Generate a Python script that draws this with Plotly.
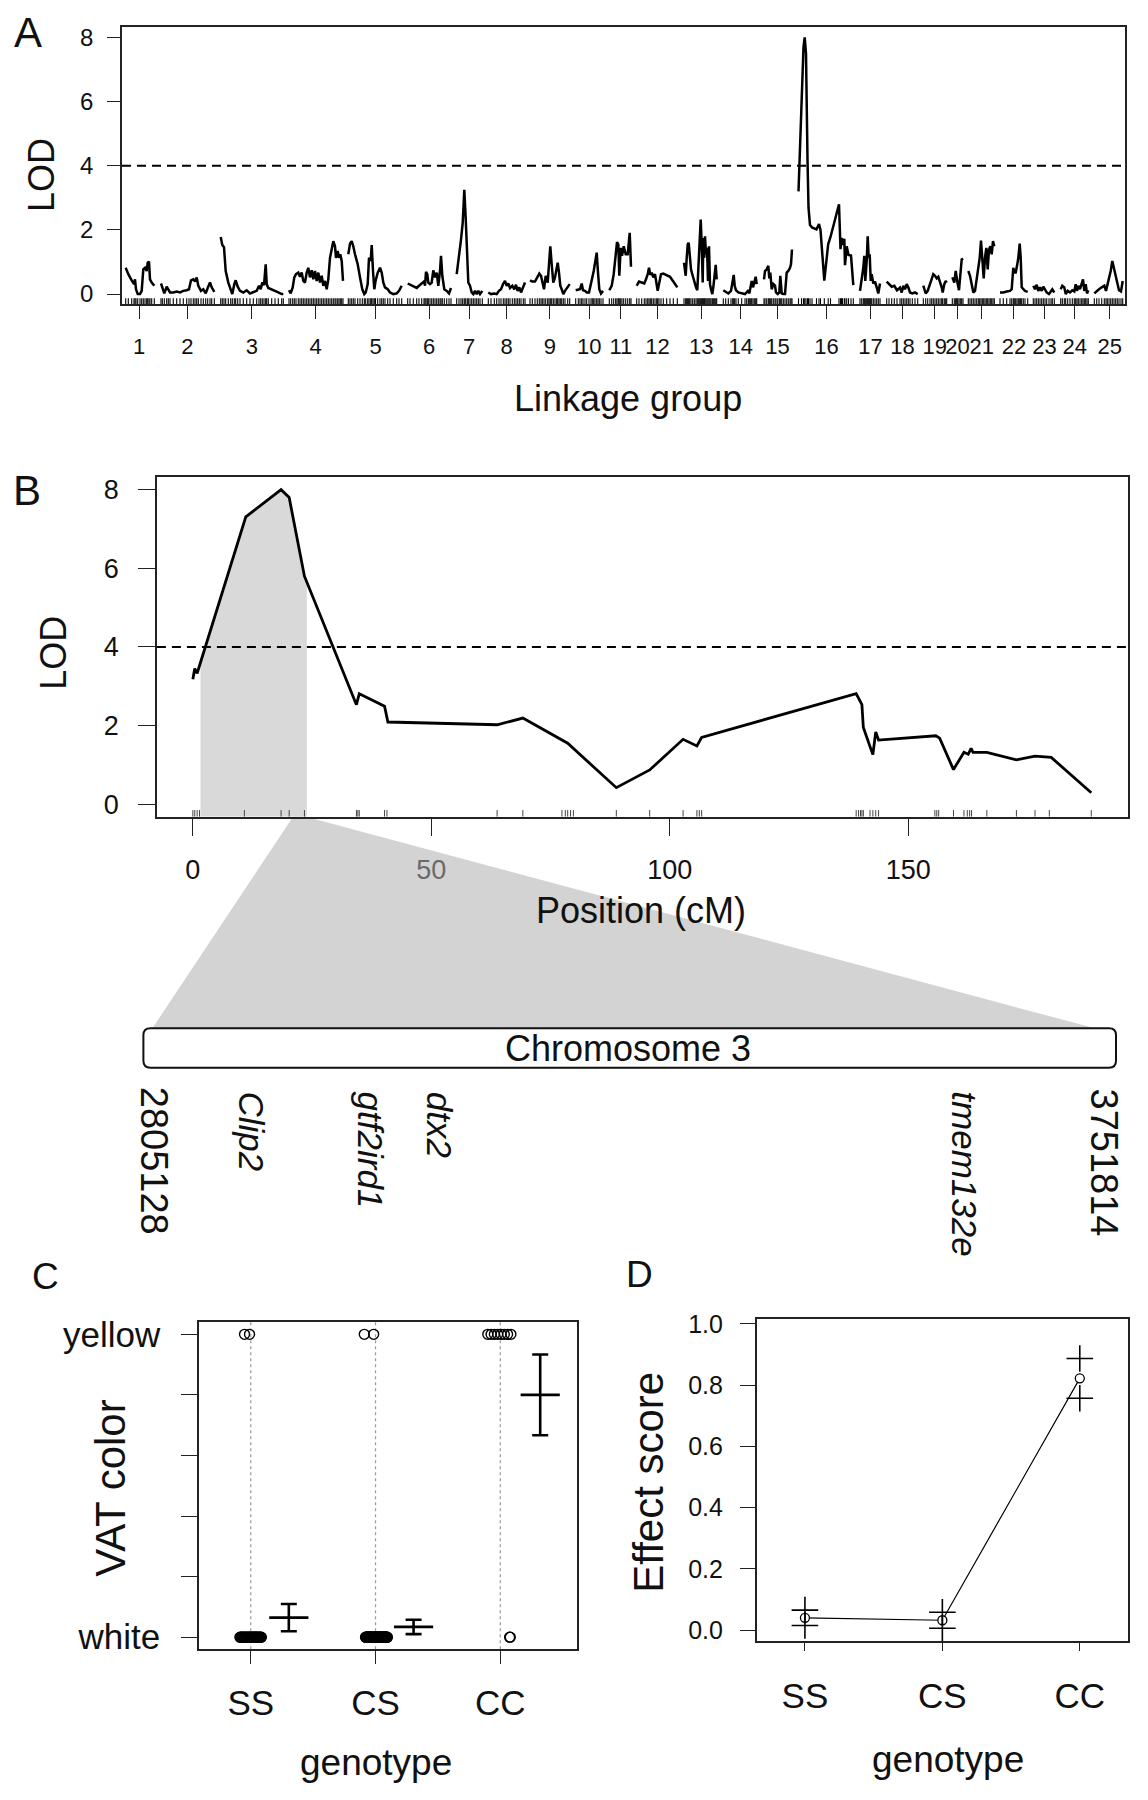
import numpy as np
import plotly.graph_objects as go

W, H = 1148, 1800
def px(x): return x / W
def py(y): return 1 - y / H

FONT = "Liberation Sans, Arial, Helvetica, sans-serif"

# ---------------- Panel A : genome scan (cumulative position, LOD) ----------------
lg_labels = [str(i) for i in range(1, 26)]
lg_centers = [17, 65.4, 129.8, 193.5, 253.5, 307, 347, 384.6, 427.8, 467.3, 498.8, 535.4,
              579.3, 618.8, 655.5, 704.5, 748.4, 780.6, 812.8, 835.5, 859.7, 891.9, 922.6, 952.7, 987.8]

chr1_pos = [3.7, 6.3, 9.7, 12.0, 13.0, 14.0, 15.7, 18.0, 19.7, 21.3, 23.0, 24.7, 25.7, 27.0, 28.0, 29.7, 32.3]
chr1_lod = [0.82, 0.62, 0.43, 0.31, 0.46, 0.15, 0.0, 0.0, 0.10, 0.77, 0.82, 0.72, 0.98, 1.01, 0.46, 0.36, 0.26]
chr2_pos = [39.0, 40.3, 42.3, 44.7, 46.3, 48.0, 51.3, 54.7, 58.0, 61.3, 64.7, 67.0, 69.0, 71.3, 73.0, 74.7, 76.3, 79.0, 81.3, 83.7, 85.7, 88.0, 89.7, 92.3]
chr2_lod = [0.33, 0.21, 0.02, 0.23, 0.15, 0.05, 0.05, 0.08, 0.05, 0.10, 0.12, 0.15, 0.43, 0.46, 0.39, 0.52, 0.26, 0.10, 0.15, 0.02, 0.19, 0.36, 0.21, 0.07]
chr3_pos = [98.7, 100.3, 102.0, 103.7, 106.3, 108.7, 110.3, 112.3, 113.7, 115.7, 118.0, 121.3, 124.7, 128.0, 131.3, 134.7, 137.0, 138.7, 140.3, 142.0, 143.7, 144.7, 146.3, 149.7, 153.0, 156.3, 159.7, 161.3]
chr3_lod = [1.78, 1.53, 1.46, 0.72, 0.36, 0.10, 0.0, 0.31, 0.43, 0.23, 0.10, 0.05, 0.12, 0.02, 0.06, 0.10, 0.26, 0.15, 0.36, 0.28, 0.93, 0.31, 0.19, 0.15, 0.10, 0.05, 0.0, 0.0]
chr4_pos = [167.0, 168.7, 170.7, 172.3, 174.0, 176.3, 178.0, 179.7, 181.3, 183.0, 184.7, 186.3, 188.0, 189.7, 191.3, 193.0, 194.7, 196.3, 198.0, 199.7, 201.3, 203.0, 204.7, 206.3, 208.0, 209.7, 211.3, 213.0, 214.0, 215.7, 217.0, 218.3, 219.7, 221.0]
chr4_lod = [0.12, 0.02, 0.21, 0.52, 0.62, 0.67, 0.54, 0.67, 0.41, 0.36, 0.67, 0.82, 0.52, 0.74, 0.46, 0.72, 0.41, 0.67, 0.36, 0.57, 0.26, 0.41, 0.15, 0.46, 1.13, 1.39, 1.65, 1.49, 1.13, 1.34, 1.13, 1.24, 1.03, 0.41]
chr5_pos = [226.3, 228.0, 229.7, 231.3, 233.0, 235.7, 238.0, 240.3, 242.3, 243.7, 245.7, 247.0, 248.7, 249.7, 251.0, 252.3, 253.5, 255.7, 258.0, 259.7, 261.3, 263.0, 265.7, 268.0, 271.3, 274.7, 277.0, 279.7]
chr5_lod = [1.24, 1.57, 1.65, 1.49, 1.24, 0.93, 0.52, 0.15, 0.0, 0.05, 0.31, 1.13, 1.03, 1.53, 0.72, 0.15, 0.40, 0.67, 0.82, 0.67, 0.36, 0.21, 0.15, 0.05, 0.0, 0.02, 0.10, 0.26]
chr6_pos = [285.7, 288.0, 291.3, 294.7, 297.0, 299.7, 302.0, 303.0, 304.0, 305.3, 306.3, 308.0, 309.7, 311.3, 313.0, 314.7, 316.3, 318.0, 319.0, 320.3, 322.3, 324.7, 327.0, 329.0]
chr6_lod = [0.33, 0.29, 0.23, 0.19, 0.26, 0.33, 0.39, 0.26, 0.69, 0.62, 0.36, 0.31, 0.36, 0.74, 0.52, 0.67, 0.26, 0.72, 1.19, 0.57, 0.15, 0.10, 0.02, 0.19]
chr7_pos = [334.7, 337.0, 339.0, 340.7, 342.3, 343.7, 345.3, 346.3, 348.0, 349.7, 351.3, 353.0, 354.7, 356.3, 358.0, 360.3]
chr7_lod = [0.62, 1.13, 1.70, 2.22, 3.25, 2.37, 1.24, 0.36, 0.26, 0.05, 0.0, 0.10, 0.0, 0.10, 0.0, 0.10]
chr8_pos = [366.3, 369.0, 372.3, 374.7, 377.0, 379.0, 381.3, 383.0, 384.7, 386.3, 388.0, 390.3, 392.3, 394.0, 395.7, 397.3, 399.0, 401.3, 403.0]
chr8_lod = [0.05, 0.0, 0.02, 0.0, 0.10, 0.15, 0.33, 0.41, 0.26, 0.33, 0.19, 0.26, 0.15, 0.29, 0.10, 0.21, 0.05, 0.26, 0.36]
chr9_pos = [408.0, 410.3, 413.0, 415.3, 417.3, 419.0, 420.3, 422.0, 423.7, 425.7, 427.0, 428.3, 429.7, 431.3, 433.0, 434.7, 435.7, 437.0, 438.3, 439.7, 441.3, 443.0, 445.7, 447.7]
chr9_lod = [0.43, 0.39, 0.39, 0.52, 0.64, 0.57, 0.33, 0.15, 0.57, 0.36, 0.93, 1.49, 0.93, 0.36, 0.52, 0.77, 0.98, 0.67, 0.26, 0.15, 0.0, 0.10, 0.23, 0.31]
chr10_pos = [453.7, 456.3, 458.0, 459.7, 461.0, 463.0, 464.7, 467.0, 469.0, 470.3, 471.7, 473.0, 474.7, 476.0, 477.3, 479.0, 481.0]
chr10_lod = [0.12, 0.15, 0.15, 0.33, 0.12, 0.10, 0.05, 0.05, 0.41, 0.52, 0.72, 0.93, 1.29, 0.67, 0.15, 0.02, 0.10]
chr11_pos = [487.3, 489.7, 491.7, 493.7, 495.0, 496.3, 497.3, 498.7, 500.0, 501.7, 503.7, 505.7, 507.7, 509.0]
chr11_lod = [0.12, 0.26, 0.62, 1.24, 1.62, 1.55, 0.57, 1.44, 1.19, 1.49, 1.24, 1.24, 1.91, 0.85]
chr12_pos = [514.7, 517.0, 519.7, 522.3, 524.0, 525.7, 527.0, 528.3, 529.7, 531.3, 533.0, 534.7, 535.7, 537.0, 539.0, 541.3, 544.7, 548.0, 551.3, 555.3]
chr12_lod = [0.26, 0.39, 0.36, 0.33, 0.46, 0.62, 0.82, 0.60, 0.67, 0.52, 0.62, 0.36, 0.10, 0.31, 0.62, 0.64, 0.60, 0.54, 0.39, 0.21]
chr13_pos = [562.0, 563.7, 564.7, 565.7, 566.7, 567.7, 569.0, 570.7, 572.3, 574.0, 575.3, 576.3, 577.7, 578.7, 579.7, 580.7, 581.3, 582.3, 583.0, 584.0, 585.0, 586.0, 587.0, 588.0, 589.0, 590.3, 591.3, 592.3, 593.7, 594.7]
chr13_lod = [0.98, 0.57, 1.13, 1.55, 1.60, 1.13, 0.77, 0.57, 0.36, 0.21, 0.12, 0.93, 1.65, 2.32, 1.55, 0.36, 1.75, 1.13, 1.80, 1.24, 1.44, 0.41, 1.49, 0.31, 0.15, 0.0, 0.21, 0.52, 0.91, 0.46]
chr14_pos = [601.3, 603.7, 606.3, 609.0, 610.7, 611.7, 612.7, 614.0, 616.3, 619.7, 623.0, 624.7, 626.3, 627.3, 628.7, 629.7, 631.0, 632.3, 633.7, 634.7]
chr14_lod = [0.12, 0.07, 0.02, 0.10, 0.36, 0.60, 0.26, 0.12, 0.05, 0.02, 0.0, 0.05, 0.12, 0.02, 0.26, 0.41, 0.21, 0.39, 0.54, 0.31]
chr15_pos = [642.0, 643.0, 644.7, 646.3, 647.3, 648.3, 649.7, 651.3, 653.0, 654.0, 655.7, 657.3, 658.3, 659.7, 661.3, 663.0, 664.7, 666.3, 668.0, 669.0, 670.0]
chr15_lod = [0.46, 0.72, 0.77, 0.88, 0.49, 0.67, 0.15, 0.31, 0.26, 0.05, 0.0, 0.05, 0.57, 0.02, 0.0, 0.0, 0.67, 0.72, 0.82, 0.93, 1.39]
chr16_pos = [676.5, 679.5, 681.5, 682.7, 684.0, 685.5, 686.5, 688.0, 690.0, 694.5, 697.0, 698.5, 702.3, 706.2, 708.5, 717.0, 718.5, 719.5, 720.5, 722.3, 723.0, 724.7, 726.5, 729.0, 731.3]
chr16_lod = [3.2, 5.8, 7.7, 8.0, 7.5, 4.2, 2.7, 2.15, 2.08, 2.02, 2.18, 2.0, 0.42, 1.56, 1.78, 2.8, 1.4, 1.75, 1.53, 1.72, 0.9, 1.49, 1.22, 1.2, 0.28]
chr17_pos = [738.0, 739.7, 741.3, 742.3, 743.3, 744.7, 745.7, 746.7, 747.7, 748.7, 749.7, 751.3, 753.0, 754.7, 756.3, 758.0]
chr17_lod = [0.10, 0.41, 0.82, 1.19, 0.41, 1.03, 1.80, 1.13, 1.24, 0.41, 0.62, 0.33, 0.39, 0.21, 0.02, 0.33]
chr18_pos = [764.7, 767.0, 769.7, 772.3, 775.0, 778.0, 779.7, 781.3, 783.0, 784.7, 786.3, 788.0, 790.3, 793.0, 795.7]
chr18_lod = [0.39, 0.31, 0.23, 0.26, 0.12, 0.20, 0.05, 0.26, 0.15, 0.31, 0.21, 0.05, 0.02, 0.05, 0.0]
chr19_pos = [801.3, 803.7, 805.7, 808.0, 809.7, 811.3, 813.0, 814.7, 816.3, 818.0, 819.7, 820.7, 822.3, 823.7, 824.7]
chr19_lod = [0.26, 0.02, 0.10, 0.31, 0.41, 0.62, 0.57, 0.49, 0.54, 0.39, 0.21, 0.05, 0.31, 0.41, 0.36]
chr20_pos = [830.3, 832.3, 833.7, 834.7, 835.7, 837.0, 838.3, 839.7, 841.0]
chr20_lod = [0.52, 0.36, 0.72, 0.46, 0.31, 0.12, 0.72, 1.08, 1.11]
chr21_pos = [846.3, 848.0, 849.7, 851.3, 853.0, 854.7, 856.3, 857.7, 859.0, 860.3, 861.7, 863.0, 864.3, 865.7, 867.0, 868.3, 869.7, 871.0, 872.3]
chr21_lod = [0.72, 0.57, 0.31, 0.05, 0.10, 0.46, 0.72, 1.13, 1.67, 0.93, 0.49, 1.13, 1.44, 0.77, 1.39, 1.49, 1.24, 1.65, 1.49]
chr22_pos = [878.0, 881.3, 884.7, 888.0, 889.7, 891.3, 892.3, 893.7, 895.0, 896.3, 897.7, 898.7, 899.7, 901.3, 903.0, 905.7]
chr22_lod = [0.05, 0.05, 0.08, 0.10, 0.15, 0.82, 0.67, 0.67, 0.88, 1.13, 1.57, 1.13, 0.21, 0.15, 0.10, 0.07]
chr23_pos = [911.3, 913.0, 914.7, 916.3, 918.0, 919.7, 921.3, 923.0, 924.7, 927.0, 929.0, 930.3, 932.3]
chr23_lod = [0.26, 0.15, 0.29, 0.10, 0.21, 0.10, 0.23, 0.15, 0.05, 0.0, 0.10, 0.15, 0.05]
chr24_pos = [938.7, 940.3, 942.3, 943.7, 945.7, 948.0, 950.3, 952.3, 953.7, 955.0, 956.3, 958.0, 959.7, 961.0, 962.3, 963.7, 965.0, 966.3]
chr24_lod = [0.15, 0.26, 0.21, 0.0, 0.10, 0.05, 0.12, 0.08, 0.31, 0.10, 0.26, 0.15, 0.33, 0.46, 0.10, 0.31, 0.02, 0.12]
chr25_pos = [972.3, 974.7, 977.0, 979.7, 982.3, 984.0, 985.3, 987.0, 988.7, 990.3, 992.0, 993.7, 995.3, 997.0, 999.0, 1000.7]
chr25_lod = [0.02, 0.10, 0.15, 0.21, 0.26, 0.10, 0.26, 0.46, 0.72, 1.03, 0.82, 0.62, 0.36, 0.12, 0.08, 0.41]

lod_threshold = 4

# ---------------- Panel B : single-chromosome scan ----------------
b_pos = [0, 0.4, 0.9, 11.1, 18.5, 20.2, 23.4, 34.3, 34.9, 40.2, 40.9, 63.8, 69.2, 78.6, 88.8, 95.8,
         102.8, 105.7, 106.7, 139.1, 140.3, 140.6, 142.6, 143.2, 143.8, 155.8, 156.6, 159.5, 161.7,
         162.6, 163.2, 163.6, 166.5, 172.7, 176.6, 180.0, 188.4]
b_lod = [3.18, 3.45, 3.33, 7.31, 8.0, 7.8, 5.8, 2.53, 2.81, 2.49, 2.09, 2.02, 2.19, 1.55, 0.42, 0.87,
         1.65, 1.48, 1.70, 2.81, 2.53, 1.95, 1.26, 1.84, 1.63, 1.74, 1.68, 0.88, 1.32,
         1.27, 1.42, 1.32, 1.32, 1.13, 1.22, 1.19, 0.29]
b_markers = [0, 0.4, 0.9, 1.4, 10.8, 18.5, 20.2, 23.4, 34.3, 34.6, 34.9, 40.2, 40.7, 63.8, 69.2,
             77.4, 78.1, 78.6, 79.2, 79.8, 88.8, 95.8, 102.8, 105.7, 106.2, 106.7, 139.1, 139.6,
             140.0, 140.3, 140.6, 142.0, 142.6, 143.2, 143.8, 155.6, 156.0, 156.4, 159.5, 161.7,
             162.4, 162.9, 163.3, 166.5, 172.7, 176.6, 179.6, 188.4]
b_interval = [1.6, 23.9]

# ---------------- Chromosome 3 region ----------------
region_start = 2805128
region_end = 3751814
gene_names = ["Clip2", "gtf2ird1", "dtx2", "tmem132e"]
gene_pos = [2903000, 3021000, 3090000, 3613000]

# ---------------- Panel C : VAT color by genotype (counts) ----------------
genotypes = ["SS", "CS", "CC"]
n_yellow = [2, 2, 8]
n_white = [29, 57, 2]

# ---------------- Panel D : effect plot ----------------
eff_mean = [0.040, 0.032, 0.822]
eff_se = [0.025, 0.026, 0.065]

fig = go.Figure()

# ===== Panel A =====
chroms = [(chr1_pos, chr1_lod), (chr2_pos, chr2_lod), (chr3_pos, chr3_lod), (chr4_pos, chr4_lod),
          (chr5_pos, chr5_lod), (chr6_pos, chr6_lod), (chr7_pos, chr7_lod), (chr8_pos, chr8_lod),
          (chr9_pos, chr9_lod), (chr10_pos, chr10_lod), (chr11_pos, chr11_lod), (chr12_pos, chr12_lod),
          (chr13_pos, chr13_lod), (chr14_pos, chr14_lod), (chr15_pos, chr15_lod), (chr16_pos, chr16_lod),
          (chr17_pos, chr17_lod), (chr18_pos, chr18_lod), (chr19_pos, chr19_lod), (chr20_pos, chr20_lod),
          (chr21_pos, chr21_lod), (chr22_pos, chr22_lod), (chr23_pos, chr23_lod), (chr24_pos, chr24_lod),
          (chr25_pos, chr25_lod)]
rx, ry = [], []
for pos, lod in chroms:
    fig.add_trace(go.Scatter(x=pos, y=lod, mode="lines", line=dict(color="black", width=2.5),
                             xaxis="x", yaxis="y", hoverinfo="skip"))
    for p in pos:
        rx += [p, p, None]
        ry += [-0.32, -0.13, None]
fig.add_trace(go.Scatter(x=rx, y=ry, mode="lines", line=dict(color="black", width=1.1),
                         xaxis="x", yaxis="y", hoverinfo="skip"))

# ===== Panel B =====
bx = np.array(b_pos, dtype=float)
by = np.array(b_lod, dtype=float)
inside = (bx > b_interval[0]) & (bx < b_interval[1])
fx = [b_interval[0]] + list(bx[inside]) + [b_interval[1]]
fy = [float(np.interp(b_interval[0], bx, by))] + list(by[inside]) + [float(np.interp(b_interval[1], bx, by))]
fig.add_trace(go.Scatter(x=fx + [b_interval[1], b_interval[0]], y=fy + [-0.32, -0.32],
                         mode="lines", fill="toself", fillcolor="#d9d9d9", line=dict(width=0),
                         xaxis="x2", yaxis="y2", hoverinfo="skip"))
brx, bry = [], []
for p in b_markers:
    brx += [p, p, None]
    bry += [-0.32, -0.15, None]
fig.add_trace(go.Scatter(x=brx, y=bry, mode="lines", line=dict(color="#444", width=1),
                         xaxis="x2", yaxis="y2", hoverinfo="skip"))
fig.add_trace(go.Scatter(x=b_pos, y=b_lod, mode="lines", line=dict(color="black", width=2.8),
                         xaxis="x2", yaxis="y2", hoverinfo="skip"))

# ===== chromosome axis (invisible anchor trace) =====
fig.add_trace(go.Scatter(x=[region_start, region_end], y=[0.5, 0.5], mode="markers",
                         marker=dict(opacity=0), xaxis="x3", yaxis="y3", hoverinfo="skip"))

# ===== Panel C =====
jit_y = [(-0.05, -0.01), (-0.09, -0.015), (-0.1, 0.085)]
jit_w = [(-0.087, 0.085), (-0.08, 0.095), (0.075, 0.08)]
for i, g in enumerate(genotypes):
    xc = i + 1
    xs_y = xc + np.linspace(jit_y[i][0], jit_y[i][1], n_yellow[i])
    xs_w = xc + np.linspace(jit_w[i][0], jit_w[i][1], n_white[i])
    fig.add_trace(go.Scatter(x=list(xs_y) + list(xs_w), y=[1] * n_yellow[i] + [0] * n_white[i],
                             mode="markers",
                             marker=dict(symbol="circle-open", size=10, color="black", line=dict(width=1.4)),
                             xaxis="x4", yaxis="y4", hoverinfo="skip"))
means_c, se_c = [], []
for i in range(3):
    n = n_yellow[i] + n_white[i]
    vals = np.array([1.0] * n_yellow[i] + [0.0] * n_white[i])
    means_c.append(vals.mean())
    se_c.append(vals.std(ddof=1) / np.sqrt(n))
fig.add_trace(go.Scatter(x=[1.305, 2.305, 3.32], y=means_c, mode="markers",
                         marker=dict(symbol="line-ew", size=28, color="black", line=dict(width=2.6, color="black")),
                         error_y=dict(type="data", array=se_c, visible=True, color="black", thickness=2.6, width=8),
                         xaxis="x4", yaxis="y4", hoverinfo="skip"))

# ===== Panel D =====
xd = [1, 2, 3]
fig.add_trace(go.Scatter(x=xd, y=eff_mean, mode="lines", line=dict(color="black", width=1.2),
                         xaxis="x5", yaxis="y5", hoverinfo="skip"))
fig.add_trace(go.Scatter(x=xd, y=eff_mean, mode="markers",
                         marker=dict(symbol="circle", size=9, color="white", line=dict(width=1.3, color="black")),
                         xaxis="x5", yaxis="y5", hoverinfo="skip"))
up = [m + s for m, s in zip(eff_mean, eff_se)]
lo = [m - s for m, s in zip(eff_mean, eff_se)]
fig.add_trace(go.Scatter(x=xd + xd, y=up + lo, mode="markers",
                         marker=dict(symbol="cross-thin", size=19, color="black", line=dict(width=1.6, color="black")),
                         xaxis="x5", yaxis="y5", hoverinfo="skip"))

# ===== axes =====
frame = dict(showline=True, mirror=True, linecolor="#222", linewidth=1.5, showgrid=False,
             zeroline=False, ticks="outside", tickcolor="#222", tickwidth=1.3, tickangle=0)
fig.update_layout(
    xaxis=dict(frame, domain=[px(122), px(1125)], range=[0, 1003], tickvals=lg_centers, ticktext=lg_labels,
               ticklen=13, tickfont=dict(size=22), ticklabelstandoff=8, anchor="y"),
    yaxis=dict(frame, domain=[py(298), py(18.3)], range=[-0.32, 8.32], tickvals=[0, 2, 4, 6, 8],
               ticklen=13, tickfont=dict(size=24), ticklabelstandoff=9, anchor="x"),
    xaxis2=dict(frame, domain=[px(156.9), px(1128)], range=[-7.54, 196.1], tickvals=[0, 50, 100, 150],
                ticktext=["0", "<span style='color:#6a6a6a'>50</span>", "100", "150"],
                ticklen=17, tickfont=dict(size=27), ticklabelstandoff=11, anchor="y2"),
    yaxis2=dict(frame, domain=[py(815), py(472.3)], range=[-0.32, 8.32], tickvals=[0, 2, 4, 6, 8],
                ticklen=17, tickfont=dict(size=27), ticklabelstandoff=14, anchor="x2"),
    xaxis3=dict(domain=[px(143.4), px(1116)], range=[2795000, 3764000], visible=False, anchor="y3"),
    yaxis3=dict(domain=[py(1068), py(1028)], range=[0, 1], visible=False, anchor="x3"),
    xaxis4=dict(frame, domain=[px(199), px(577)], range=[0.585, 3.615], tickvals=[1, 2, 3], ticktext=genotypes,
                ticklen=13, tickfont=dict(size=35), ticklabelstandoff=9, anchor="y4"),
    yaxis4=dict(frame, domain=[py(1655), py(1325)], range=[-0.04, 1.04], tickvals=[0, 0.2, 0.4, 0.6, 0.8, 1.0],
                ticktext=["white", "", "", "", "", "yellow"], ticklen=16, tickfont=dict(size=35),
                ticklabelstandoff=14, anchor="x4"),
    xaxis5=dict(frame, domain=[px(756.7), px(1127.6)], range=[0.649, 3.348], tickvals=[1, 2, 3], ticktext=genotypes,
                ticklen=8, tickfont=dict(size=35), ticklabelstandoff=15, anchor="y5"),
    yaxis5=dict(frame, domain=[py(1646.7), py(1321.7)], range=[-0.036, 1.016], tickvals=[0, 0.2, 0.4, 0.6, 0.8, 1.0],
                ticktext=["0.0", "0.2", "0.4", "0.6", "0.8", "1.0"], ticklen=15, tickfont=dict(size=25),
                ticklabelstandoff=12, anchor="x5"),
)

# ===== shapes =====
def P(x, y):
    return f"{px(x):.5f},{py(y):.5f}"

shapes = []
for xr, yr in (("x", "y"), ("x2", "y2")):
    shapes.append(dict(type="line", xref=f"{xr} domain", yref=yr, x0=0, x1=1, y0=lod_threshold, y1=lod_threshold,
                       line=dict(color="black", width=2, dash="9px,6px")))
wedge = f"M {P(293, 815)} L {P(306, 815)} L {P(1097, 1029)} L {P(152, 1029)} Z"
shapes.append(dict(type="path", xref="paper", yref="paper", path=wedge, fillcolor="#d3d3d3",
                   line=dict(width=0), layer="below"))
x0b, x1b, y0b, y1b, r = 143.4, 1116, 1028.3, 1068.3, 7
bar = (f"M {P(x0b + r, y0b)} L {P(x1b - r, y0b)} Q {P(x1b, y0b)} {P(x1b, y0b + r)} "
       f"L {P(x1b, y1b - r)} Q {P(x1b, y1b)} {P(x1b - r, y1b)} L {P(x0b + r, y1b)} "
       f"Q {P(x0b, y1b)} {P(x0b, y1b - r)} L {P(x0b, y0b + r)} Q {P(x0b, y0b)} {P(x0b + r, y0b)} Z")
shapes.append(dict(type="path", xref="paper", yref="paper", path=bar, fillcolor="white",
                   line=dict(color="#111", width=2)))
for xc in (1, 2, 3):
    shapes.append(dict(type="line", xref="x4", yref="y4 domain", x0=xc, x1=xc, y0=0, y1=1,
                       line=dict(color="#9a9a9a", width=1.2, dash="dot"), layer="below"))
fig.update_layout(shapes=shapes)

# ===== annotations =====
ann = []
def A(text, x, y, size, angle=0, xanchor="center", yanchor="middle", xref="paper", color="#111"):
    ann.append(dict(text=text, x=(px(x) if xref == "paper" else x), y=py(y), xref=xref, yref="paper",
                    showarrow=False, textangle=angle, xanchor=xanchor, yanchor=yanchor,
                    font=dict(size=size, color=color, family=FONT)))

A("A", 28, 24, 42)
A("B", 27, 486, 42)
A("C", 45, 1279, 37)
A("D", 639, 1277, 37)
A("LOD", 41.6, 168, 36, angle=-90)
A("Linkage group", 628, 393, 36)
A("LOD", 53.6, 650, 36, angle=-90)
A("Position (cM)", 641, 910, 36)
A("Chromosome 3", 628, 1049, 36)
A("VAT color", 111, 1493, 42, angle=-90)
A("genotype", 375.5, 1769, 37)
A("Effect score", 649, 1487, 42, angle=-90)
A("genotype", 947.6, 1766, 37)
A(str(region_start), region_start, 1085, 38, angle=90, yanchor="top", xref="x3")
A(str(region_end), region_end, 1087, 38, angle=90, yanchor="top", xref="x3")
for g, gp in zip(gene_names, gene_pos):
    A(f"<i>{g}</i>", gp, 1090, 35, angle=90, yanchor="top", xref="x3")
fig.update_layout(annotations=ann)

fig.update_layout(
    width=W, height=H, margin=dict(l=0, r=0, t=0, b=0),
    paper_bgcolor="white", plot_bgcolor="rgba(0,0,0,0)", showlegend=False,
    font=dict(family=FONT, color="#111"),
)

fig.write_html("out.html", config={"displayModeBar": False},
               post_script="document.body.style.margin='0';document.body.style.overflow='hidden';")
